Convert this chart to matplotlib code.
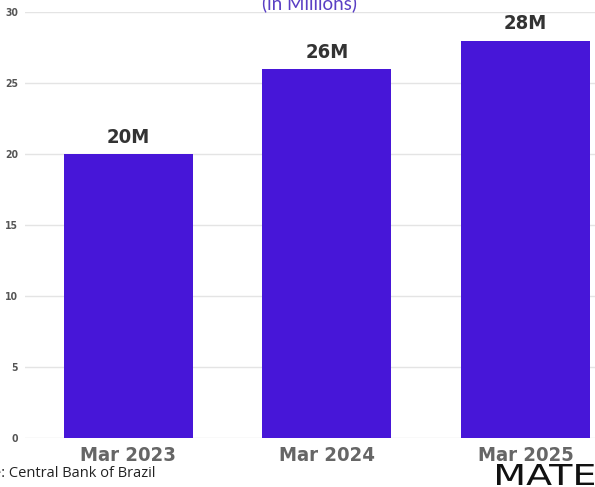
import matplotlib.pyplot as plt
from matplotlib.textpath import TextPath
from matplotlib.patches import PathPatch
from matplotlib.font_manager import FontProperties
from matplotlib.transforms import Affine2D

periods = ["Mar 2023", "Mar 2024", "Mar 2025"]
users = [20, 26, 28]
value_labels = ["20M", "26M", "28M"]
yticks = [0, 5, 10, 15, 20, 25, 30]

bar_color = "#4716d8"
cond = dict(family="DejaVu Sans", stretch="condensed", weight="bold")

fig = plt.figure(figsize=(5.95, 4.87), dpi=100)
ax = fig.add_axes([0.042, 0.101, 0.958, 0.874])

x = range(len(periods))
ax.bar(x, users, width=0.65, color=bar_color, zorder=3)
for xi, v, lab in zip(x, users, value_labels):
    ax.text(xi, v + 0.5, lab, ha="center", va="bottom", fontsize=14.5,
            color="#333333", **cond)

ax.set_xlim(-0.52, 2.35)
ax.set_ylim(0, 30)
ax.set_yticks(yticks)
ax.set_yticklabels([str(t) for t in yticks], fontsize=7.5, color="#555555",
                   **cond)
ax.set_xticks(list(x))
ax.set_xticklabels(periods, fontsize=14.5, color="#666666", **cond)
ax.tick_params(axis="both", length=0)
ax.tick_params(axis="y", pad=5)
ax.tick_params(axis="x", pad=6)
ax.grid(axis="y", color="#e4e4e4", linewidth=1, zorder=0)
for s in ax.spines.values():
    s.set_visible(False)

ax.set_title("(in Millions)", fontsize=13.5, color="#5a3fc4",
             family=["Lato", "DejaVu Sans"], pad=-4)

fig.text(0.262, 0.012, "Source: Central Bank of Brazil", ha="right",
         va="bottom", fontsize=10.5, color="#222222",
         family=["Open Sans", "DejaVu Sans"])

# wide thin wordmark in the bottom-right corner
tp = TextPath((0, 0), "MATE", size=20,
              prop=FontProperties(family="DejaVu Sans"))
bb = tp.get_extents()
sx = 97 / bb.width
sy = 21 / bb.height
tr = Affine2D().translate(-bb.x0, -bb.y0).scale(sx, sy).translate(497, 2)
logo = PathPatch(tr.transform_path(tp), color="#111111", lw=0,
                 transform=None)
fig.patches.append(logo)

fig.savefig("out.png", dpi=100)
